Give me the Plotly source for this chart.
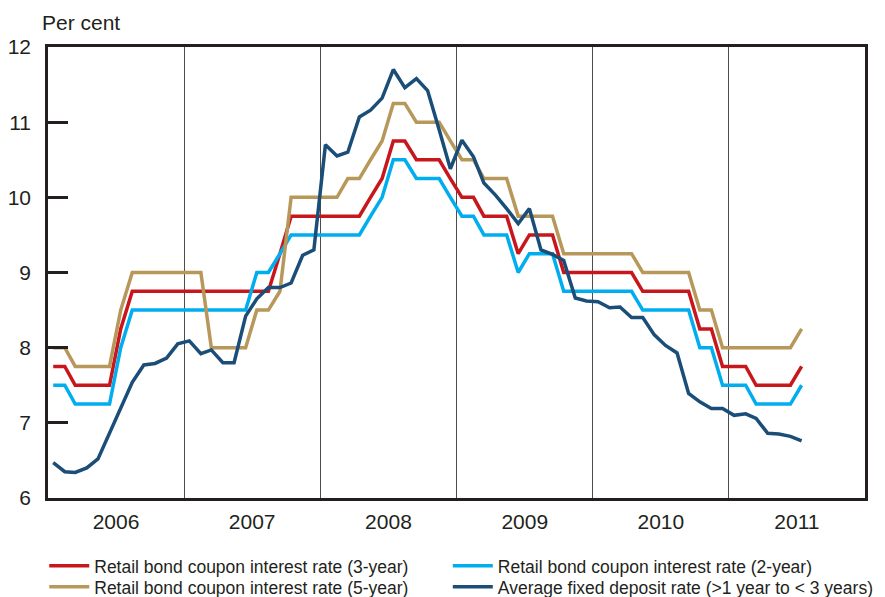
import pandas as pd
import plotly.graph_objects as go

# monthly observations, Jan 2006 - Jul 2011 (plotted mid-month)
months = pd.date_range("2006-01-01", "2011-07-01", freq="MS") + pd.Timedelta(days=14)

bond_3yr = [
    7.75, 7.75, 7.5, 7.5, 7.5, 7.5, 8.25, 8.75, 8.75, 8.75, 8.75, 8.75,
    8.75, 8.75, 8.75, 8.75, 8.75, 8.75, 8.75, 8.75, 9.25, 9.75, 9.75, 9.75,
    9.75, 9.75, 9.75, 9.75, 10.0, 10.25, 10.75, 10.75, 10.5, 10.5, 10.5, 10.25,
    10.0, 10.0, 9.75, 9.75, 9.75, 9.25, 9.5, 9.5, 9.5, 9.0, 9.0, 9.0,
    9.0, 9.0, 9.0, 9.0, 8.75, 8.75, 8.75, 8.75, 8.75, 8.25, 8.25, 7.75,
    7.75, 7.75, 7.5, 7.5, 7.5, 7.5, 7.75,
]
bond_2yr = [
    7.5, 7.5, 7.25, 7.25, 7.25, 7.25, 8.0, 8.5, 8.5, 8.5, 8.5, 8.5,
    8.5, 8.5, 8.5, 8.5, 8.5, 8.5, 9.0, 9.0, 9.25, 9.5, 9.5, 9.5,
    9.5, 9.5, 9.5, 9.5, 9.75, 10.0, 10.5, 10.5, 10.25, 10.25, 10.25, 10.0,
    9.75, 9.75, 9.5, 9.5, 9.5, 9.0, 9.25, 9.25, 9.25, 8.75, 8.75, 8.75,
    8.75, 8.75, 8.75, 8.75, 8.5, 8.5, 8.5, 8.5, 8.5, 8.0, 8.0, 7.5,
    7.5, 7.5, 7.25, 7.25, 7.25, 7.25, 7.5,
]
bond_5yr = [
    8.0, 8.0, 7.75, 7.75, 7.75, 7.75, 8.5, 9.0, 9.0, 9.0, 9.0, 9.0,
    9.0, 9.0, 8.0, 8.0, 8.0, 8.0, 8.5, 8.5, 8.75, 10.0, 10.0, 10.0,
    10.0, 10.0, 10.25, 10.25, 10.5, 10.75, 11.25, 11.25, 11.0, 11.0, 11.0, 10.75,
    10.5, 10.5, 10.25, 10.25, 10.25, 9.75, 9.75, 9.75, 9.75, 9.25, 9.25, 9.25,
    9.25, 9.25, 9.25, 9.25, 9.0, 9.0, 9.0, 9.0, 9.0, 8.5, 8.5, 8.0,
    8.0, 8.0, 8.0, 8.0, 8.0, 8.0, 8.25,
]
deposit = [
    6.47, 6.35, 6.34, 6.4, 6.52, 6.86, 7.18, 7.54, 7.77, 7.79, 7.86, 8.05,
    8.09, 7.92, 7.97, 7.8, 7.8, 8.42, 8.65, 8.8, 8.8, 8.86, 9.23, 9.3,
    10.7, 10.55, 10.6, 11.07, 11.16, 11.32, 11.7, 11.46, 11.58, 11.42, 10.9, 10.38,
    10.76, 10.54, 10.19, 10.03, 9.85, 9.65, 9.85, 9.3, 9.24, 9.16, 8.66, 8.62,
    8.61, 8.53, 8.54, 8.4, 8.4, 8.17, 8.03, 7.93, 7.39, 7.28, 7.19, 7.19,
    7.1, 7.12, 7.06, 6.86, 6.85, 6.82, 6.76,
]

# (name, values, colour, legend slot)
series = [
    ("Retail bond coupon interest rate (3-year)", bond_3yr, "#c8161d", "legend"),
    ("Retail bond coupon interest rate (2-year)", bond_2yr, "#00aeef", "legend2"),
    ("Retail bond coupon interest rate (5-year)", bond_5yr, "#b8985a", "legend3"),
    ("Average fixed deposit rate (>1 year to < 3 years)", deposit, "#1a4e78", "legend4"),
]

TEXT = "#231f20"
FONT = "Liberation Sans, Arial, sans-serif"

fig = go.Figure()
for name, vals, colour, leg in series:
    fig.add_trace(go.Scatter(
        x=months, y=vals, name=name, mode="lines", legend=leg,
        line=dict(color=colour, width=3.5),
    ))

# one legend box per entry so the 2x2 grid can be placed exactly
legend_item = dict(
    orientation="h", xref="container", yref="container",
    xanchor="left", yanchor="middle", itemwidth=40,
    font=dict(size=17.5), bgcolor="rgba(0,0,0,0)",
)
col_x = [0.05, 0.506]
row_y = [0.052, 0.017]

fig.update_layout(
    width=885, height=597,
    margin=dict(l=48, r=20, t=47, b=99, autoexpand=False),
    paper_bgcolor="white", plot_bgcolor="white",
    font=dict(family=FONT, color=TEXT, size=21),
    showlegend=True,
    legend=dict(legend_item, x=col_x[0], y=row_y[0]),
    legend2=dict(legend_item, x=col_x[1], y=row_y[0]),
    legend3=dict(legend_item, x=col_x[0], y=row_y[1]),
    legend4=dict(legend_item, x=col_x[1], y=row_y[1]),
    annotations=[dict(
        text="Per cent", xref="paper", yref="paper", x=-0.01, y=1.055,
        xanchor="left", yanchor="middle", showarrow=False, font=dict(size=21),
    )],
)
fig.update_xaxes(
    type="date", range=["2006-01-01", "2012-01-01"],
    tick0="2006-01-01", dtick="M12", tickformat="%Y", ticklabelmode="period",
    showgrid=True, gridcolor="#4d4d4d", gridwidth=1, ticks="",
    showline=True, linecolor=TEXT, linewidth=2.5, mirror=True,
    ticklabelstandoff=3, zeroline=False, automargin=False,
)
fig.update_yaxes(
    range=[6, 12], dtick=1, showgrid=False, zeroline=False,
    ticks="inside", ticklen=20, tickwidth=2.5, tickcolor=TEXT,
    showline=True, linecolor=TEXT, linewidth=2.5, mirror=True,
    ticklabelstandoff=10, automargin=False,
)

fig.write_html(
    "out.html",
    config={"displayModeBar": False},
    post_script="document.body.style.margin = '0';",
)
